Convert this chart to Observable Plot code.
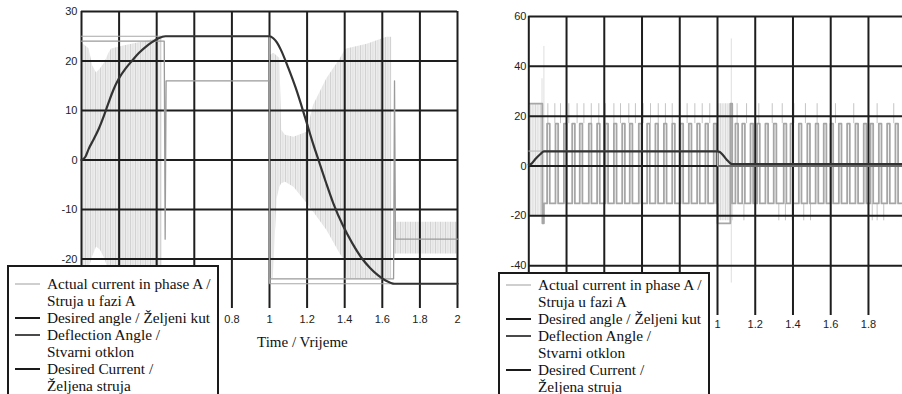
<!DOCTYPE html>
<html><head><meta charset="utf-8">
<script src="https://cdn.jsdelivr.net/npm/d3@7"></script>
<script src="https://cdn.jsdelivr.net/npm/@observablehq/plot@0.6"></script>
<style>
html,body{margin:0;padding:0;background:#fff;overflow:hidden;}
#wrap{position:relative;width:902px;height:394px;overflow:hidden;background:#fff;}
.panel{position:absolute;top:0;}
.legend{position:absolute;background:#fff;border:2px solid #1a1a1a;font-family:"Liberation Serif","Times New Roman",serif;font-size:15.3px;line-height:17px;color:#111;box-sizing:border-box;padding-left:6px;}
.row{white-space:nowrap;height:17px;}
.sw{display:inline-block;width:25px;height:2px;vertical-align:middle;margin-right:7px;position:relative;top:-1px;}
.ind{display:inline-block;width:32px;}
.xlabel{position:absolute;font-family:"Liberation Serif","Times New Roman",serif;font-size:15px;line-height:17px;white-space:nowrap;color:#111;}
</style></head><body><div id="wrap"></div>
<script>
// ---------- ticks ----------
const xGrid = [0, 0.2, 0.4, 0.6, 0.8, 1, 1.2, 1.4, 1.6, 1.8, 2];
const xLabelsLeft = [0.8, 1, 1.2, 1.4, 1.6, 1.8, 2];      // the others sit under the legend
const xLabelsRight = [1, 1.2, 1.4, 1.6, 1.8];
const yLabelsLeft = [30, 20, 10, 0, -10, -20];
const yGridLeft = [30, 20, 10, 0, -10, -20];
const yLabelsRight = [60, 40, 20, 0, -20, -40];
const yGridRight = [60, 40, 20, 0, -20, -40];

// ---------- left panel data: [t, upper envelope, lower envelope] ----------
const leftCurrentA = [
  [0, 23.7, -23.5], [0.04, 22.5, -22], [0.06, 19, -19.5], [0.08, 17.6, -17.6],
  [0.1, 18.4, -18.2], [0.125, 19.7, -20], [0.145, 21.5, -22.5], [0.16, 22.4, -23.5],
  [0.23, 23.1, -24], [0.32, 23.8, -24], [0.39, 24.4, -24.5], [0.43, 24.5, -24.5]
];
const leftCurrentB = [
  [1.0, 21, -24], [1.02, 21.5, -24], [1.025, 21.5, -20], [1.04, 21, -8],
  [1.055, 20.5, -5.5], [1.065, 6, -4.8], [1.085, 5, -4.5], [1.13, 4.6, -5.5],
  [1.2, 5.6, -8.8], [1.234, 11, -10.5], [1.305, 16.4, -14.2], [1.376, 20.4, -19],
  [1.4, 22, -20.3], [1.41, 22.4, -24], [1.52, 23.4, -24], [1.625, 24.8, -24], [1.65, 24.8, -24]
];
const leftCurrentC = [[1.665, -12.6, -19], [2, -12.6, -19]];

const leftDeflection = [
  [0, 0], [0.02, 0.6], [0.039, 2.3], [0.065, 4.2], [0.092, 6.3], [0.12, 9], [0.145, 11.7],
  [0.17, 14.2], [0.198, 16.4], [0.235, 18.5], [0.27, 20.1], [0.305, 21.6], [0.34, 22.8],
  [0.375, 23.8], [0.41, 24.6], [0.447, 25], [1.0, 25], [1.02, 24.6], [1.04, 23.7],
  [1.06, 22.3], [1.1, 18.6], [1.14, 14.5], [1.19, 8.5], [1.23, 3.5], [1.265, -0.5],
  [1.3, -4.5], [1.34, -8.8], [1.39, -13.2], [1.44, -16.8], [1.49, -19.8],
  [1.535, -21.8], [1.578, -23.3], [1.62, -24.4], [1.665, -25], [2, -25]
];
const leftDesiredAngle = [[0, 25], [1, 25], [1, -25], [2, -25]];
const leftDesiredCurrent = [
  [0, 24], [0.44, 24], [0.445, -16], [0.45, 16], [1, 16], [1, -24],
  [1.66, -24], [1.665, 16], [1.67, -16], [2, -16]
];

// ---------- right panel data ----------
const rightTransients = [
  [[0, 25, -20], [0.075, 25, -20]],
  [[1.0, 25, -22], [1.085, 25, -22]]
];
const rightDeflection = [
  [0, 0.5], [0.015, 1], [0.035, 2.8], [0.062, 4.8], [0.08, 5.9], [1.0, 5.9], [1.012, 5.6],
  [1.024, 4.8], [1.05, 2.4], [1.065, 1.3], [1.077, 0.8], [2, 0.8]
];
const rightDesiredAngle = [[0, 6], [1, 6], [1, 0], [2, 0]];
const pulseHigh = 17, pulseLow = -15, pulseWidth = 0.014;
const pulseStarts1 = [0.097, 0.1415, 0.186, 0.230, 0.270, 0.318, 0.362, 0.406, 0.451, 0.495,
  0.535, 0.583, 0.627, 0.671, 0.716, 0.760, 0.804, 0.848, 0.892, 0.936, 0.980];
const pulseStarts2 = [1.095, 1.131, 1.175, 1.210, 1.254, 1.298, 1.351, 1.387, 1.431, 1.476,
  1.520, 1.563, 1.599, 1.643, 1.687, 1.731, 1.775, 1.811, 1.855, 1.899, 1.943, 1.985];
const spikeUpT = [0.101, 0.138, 0.168, 0.212, 0.256, 0.292, 0.331, 0.371, 0.406, 0.451, 0.486,
  0.530, 0.565, 0.606, 0.645, 0.686, 0.724, 0.760, 0.800, 0.839, 0.880, 0.919, 0.959,
  1.104, 1.154, 1.219, 1.290, 1.343, 1.405, 1.466, 1.528, 1.625, 1.722, 1.846, 1.934];
const spikeDownT = [1.140, 1.325, 1.360, 1.396, 1.457, 1.493, 1.820, 1.846, 1.881];
const tallSpikes = [[0.07, -18, 35], [0.08, -20, 48], [1.073, -47, 51]];

// square-wave table built from the pulse lists
const rightDesiredCurrent = [[0, 25], [0.072, 25], [0.072, -23], [0.08, -23], [0.08, pulseLow]];
for (const s of pulseStarts1) rightDesiredCurrent.push([s, pulseLow], [s, pulseHigh], [s + pulseWidth, pulseHigh], [s + pulseWidth, pulseLow]);
rightDesiredCurrent.push([1.0, pulseLow], [1.0, -23], [1.068, -23], [1.068, 25], [1.078, 25], [1.078, pulseLow]);
for (const s of pulseStarts2) rightDesiredCurrent.push([s, pulseLow], [s, pulseHigh], [s + pulseWidth, pulseHigh], [s + pulseWidth, pulseLow]);
rightDesiredCurrent.push([2, pulseLow]);

// ---------- legend ----------
const legendItems = [
  {lines: ["Actual current in phase A /", "Struja u fazi A"], color: "#cfcfcf"},
  {lines: ["Desired angle / Željeni kut"], color: "#1a1a1a"},
  {lines: ["Deflection Angle /", "Stvarni otklon"], color: "#4a4a4a"},
  {lines: ["Desired Current /", "Željena struja"], color: "#1a1a1a"}
];

const fmt = d => String(+d.toFixed(1));
const gridColor = "#1e1e1e";
const style = {fontFamily: "'Liberation Sans', Arial, sans-serif", fontSize: "11px", color: "#222", background: "none", overflow: "visible"};
const X = d => d[0], Y = d => d[1];

const left = Plot.plot({
  width: 470, height: 394,
  marginLeft: 81, marginRight: 13, marginTop: 11, marginBottom: 86,
  x: {domain: [0, 2]}, y: {domain: [-30, 30]},
  style,
  marks: [
    ...[leftCurrentA, leftCurrentB, leftCurrentC].map(seg =>
      Plot.areaY(seg, {x: X, y1: d => d[2], y2: d => d[1], fill: "url(#streakL)"})),
    Plot.ruleX(xGrid, {stroke: gridColor, strokeWidth: 2}),
    Plot.ruleY(yGridLeft, {stroke: gridColor, strokeWidth: 2}),
    Plot.line(leftDesiredAngle, {x: X, y: Y, stroke: "#a8a8a8", strokeWidth: 1}),
    Plot.line(leftDesiredCurrent, {x: X, y: Y, stroke: "#9a9a9a", strokeWidth: 1.3}),
    Plot.line(leftDeflection, {x: X, y: Y, stroke: "#333", strokeWidth: 2.2, curve: "monotone-x"}),
    Plot.axisX(xLabelsLeft, {tickSize: 0, tickPadding: 7, tickFormat: fmt, label: null}),
    Plot.axisY(yLabelsLeft, {tickSize: 0, tickPadding: 4, tickFormat: fmt, label: null})
  ]
});

const right = Plot.plot({
  width: 470, height: 394,
  marginLeft: 58.3, marginRight: 34.3, marginTop: 16, marginBottom: 79,
  x: {domain: [0, 2]}, y: {domain: [-60, 60]},
  style,
  marks: [
    ...rightTransients.map(seg =>
      Plot.areaY(seg, {x: X, y1: d => d[2], y2: d => d[1], fill: "url(#streakR)"})),
    Plot.ruleX(tallSpikes, {x: d => d[0], y1: d => d[1], y2: d => d[2], stroke: "#dedede", strokeWidth: 1}),
    Plot.ruleX(spikeUpT, {x: d => d, y1: pulseHigh, y2: 25, stroke: "#c4c4c4", strokeWidth: 1}),
    Plot.ruleX(spikeDownT, {x: d => d, y1: pulseLow, y2: -22, stroke: "#c4c4c4", strokeWidth: 1}),
    Plot.line(rightDesiredCurrent, {x: X, y: Y, stroke: "#a6a6a6", strokeWidth: 1.8}),
    Plot.ruleX(xGrid, {stroke: gridColor, strokeWidth: 2}),
    Plot.ruleY(yGridRight, {stroke: gridColor, strokeWidth: 2}),
    Plot.line(rightDesiredAngle, {x: X, y: Y, stroke: "#b5b5b5", strokeWidth: 1}),
    Plot.line(rightDeflection, {x: X, y: Y, stroke: "#333", strokeWidth: 2.2, curve: "monotone-x"}),
    Plot.axisX(xLabelsRight, {tickSize: 0, tickPadding: 5, tickFormat: fmt, label: null}),
    Plot.axisY(yLabelsRight, {tickSize: 0, tickPadding: 2.3, tickFormat: fmt, label: null})
  ]
});

// streak texture for the dense oscillation of the phase current
function addStreaks(svg, id, base, line) {
  const ns = "http://www.w3.org/2000/svg";
  const defs = document.createElementNS(ns, "defs");
  const pat = document.createElementNS(ns, "pattern");
  pat.setAttribute("id", id);
  pat.setAttribute("patternUnits", "userSpaceOnUse");
  pat.setAttribute("width", "5"); pat.setAttribute("height", "40");
  const bg = document.createElementNS(ns, "rect");
  bg.setAttribute("width", "5"); bg.setAttribute("height", "40"); bg.setAttribute("fill", base);
  pat.appendChild(bg);
  for (const [x, w, c] of [[0, 1, line], [2.5, 0.8, "#dcdcdc"]]) {
    const r = document.createElementNS(ns, "rect");
    r.setAttribute("x", x); r.setAttribute("width", w); r.setAttribute("height", "40"); r.setAttribute("fill", c);
    pat.appendChild(r);
  }
  defs.appendChild(pat);
  svg.insertBefore(defs, svg.firstChild);
}
addStreaks(left, "streakL", "#ececec", "#d2d2d2");
addStreaks(right, "streakR", "#efefef", "#d8d8d8");

const wrap = document.getElementById("wrap");
left.classList.add("panel"); left.style.left = "0px";
right.classList.add("panel"); right.style.left = "470px";
wrap.appendChild(left);
wrap.appendChild(right);

const xl = document.createElement("div");
xl.className = "xlabel";
xl.textContent = "Time / Vrijeme";
xl.style.left = "257px"; xl.style.top = "333.5px";
wrap.appendChild(xl);

function makeLegend(leftPx, topPx, padTop) {
  const box = document.createElement("div");
  box.className = "legend";
  box.style.left = leftPx + "px"; box.style.top = topPx + "px";
  box.style.width = "212px"; box.style.height = "150px";
  box.style.paddingTop = padTop + "px";
  for (const item of legendItems) {
    item.lines.forEach((txt, i) => {
      const row = document.createElement("div");
      row.className = "row";
      const sw = document.createElement("span");
      if (i === 0) { sw.className = "sw"; sw.style.background = item.color; }
      else sw.className = "ind";
      row.appendChild(sw);
      row.appendChild(document.createTextNode(txt));
      box.appendChild(row);
    });
  }
  wrap.appendChild(box);
}
makeLegend(7, 265, 7.5);
makeLegend(498, 272, 2);
</script></body></html>
